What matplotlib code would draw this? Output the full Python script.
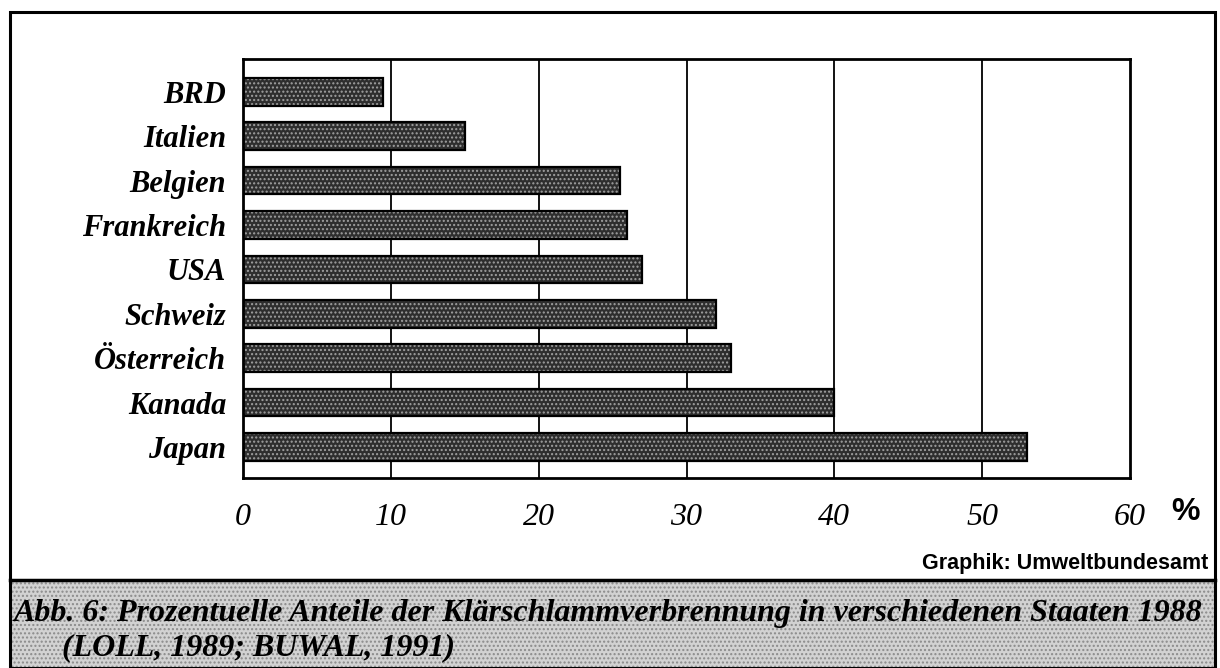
import matplotlib.pyplot as plt
from matplotlib.patches import Rectangle

countries = ['BRD', 'Italien', 'Belgien', 'Frankreich', 'USA', 'Schweiz',
             'Österreich', 'Kanada', 'Japan']
shares = [9.5, 15, 25.5, 26, 27, 32, 33, 40, 53]
xticks = [0, 10, 20, 30, 40, 50, 60]

W, H = 1220, 668
fig = plt.figure(figsize=(W / 100, H / 100), dpi=100)
fig.patch.set_facecolor('white')

def fx(px):
    return px / W

def fy(py):
    return 1 - py / H

# caption band and outer frame
fig.patches.append(Rectangle((fx(10), 0), fx(1215) - fx(10), fy(580), transform=fig.transFigure,
                             facecolor='#d2d2d2', edgecolor='#8a8a8a', hatch='....', lw=0, zorder=0))
fig.patches.append(Rectangle((fx(10), 0), fx(1215) - fx(10), fy(12), transform=fig.transFigure,
                             fill=False, edgecolor='black', lw=2.2, zorder=1))
fig.lines.append(plt.Line2D([fx(10), fx(1215)], [fy(580), fy(580)], transform=fig.transFigure,
                            color='black', lw=2.5))

ax = fig.add_axes([fx(243), fy(478), fx(1130) - fx(243), fy(59) - fy(478)])
y = list(range(len(countries)))
ax.barh(y, shares, height=0.62, color='#2e2e2e', edgecolor='#a0a0a0', hatch='....', lw=0, zorder=2)
ax.barh(y, shares, height=0.62, fill=False, edgecolor='black', lw=1.6, zorder=3)

ax.set_xlim(0, 60)
ax.set_ylim(8.7, -0.74)
ax.set_xticks(xticks)
ax.set_xticklabels([str(t) for t in xticks], family='Liberation Serif', style='italic', fontsize=23)
ax.set_yticks(y)
ax.set_yticklabels(countries, family='Liberation Serif', style='italic', weight='bold', fontsize=22)
ax.tick_params(length=0, pad=12)
ax.tick_params(axis='x', pad=18)
for x in xticks[1:-1]:
    ax.axvline(x, color='black', lw=1.3, zorder=1)
for s in ax.spines.values():
    s.set_linewidth(2)

fig.text(fx(1185), fy(512), '%', family='Liberation Sans', weight='bold', fontsize=23,
         ha='center', va='center')
fig.text(fx(1208), fy(563), 'Graphik: Umweltbundesamt', family='Liberation Sans', weight='bold',
         fontsize=15.5, ha='right', va='center')
fig.text(fx(14), fy(613), 'Abb. 6: Prozentuelle Anteile der Klärschlammverbrennung in verschiedenen Staaten 1988',
         family='Liberation Serif', style='italic', weight='bold', fontsize=23, ha='left', va='center')
fig.text(fx(62), fy(648), '(LOLL, 1989; BUWAL, 1991)', family='Liberation Serif', style='italic',
         weight='bold', fontsize=23, ha='left', va='center')

fig.savefig('out.png', dpi=100)
